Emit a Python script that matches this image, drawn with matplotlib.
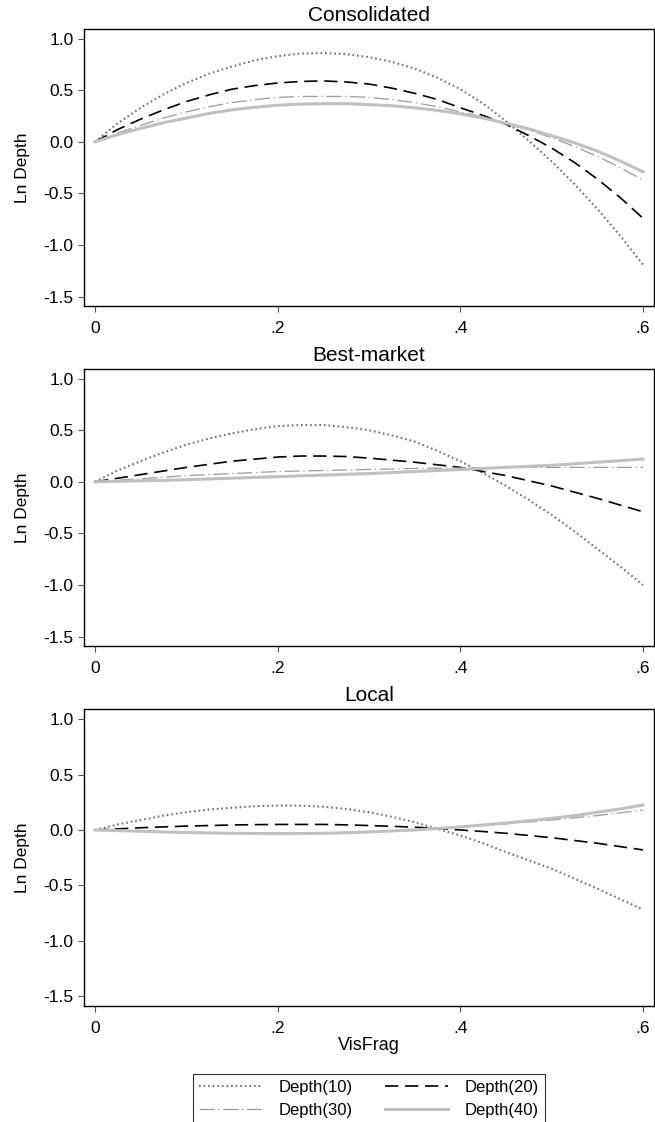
import matplotlib

matplotlib.use("Agg")
import matplotlib.pyplot as plt

plt.rcParams["font.family"] = ["Liberation Sans", "DejaVu Sans"]

# values, x = VisFrag (step .025)
visfrag = [
    0, 0.025, 0.05, 0.075, 0.1, 0.125, 0.15, 0.175, 0.2, 0.225, 0.25, 0.275, 0.3,
    0.325, 0.35, 0.375, 0.4, 0.425, 0.45, 0.475, 0.5, 0.525, 0.55, 0.575, 0.6,
]

panel_titles = ["Consolidated", "Best-market", "Local"]
series_labels = ["Depth(10)", "Depth(20)", "Depth(30)", "Depth(40)"]

cons_d10 = [0, 0.18, 0.33, 0.46, 0.57, 0.66, 0.73, 0.79, 0.83, 0.855, 0.86, 0.85, 0.82,
            0.775, 0.71, 0.62, 0.51, 0.37, 0.20, 0.01, -0.19, -0.41, -0.65, -0.91, -1.19]
cons_d20 = [0, 0.12, 0.22, 0.31, 0.39, 0.455, 0.51, 0.545, 0.57, 0.585, 0.59, 0.58, 0.56,
            0.52, 0.47, 0.41, 0.33, 0.255, 0.17, 0.06, -0.06, -0.20, -0.36, -0.54, -0.74]
cons_d30 = [0, 0.085, 0.16, 0.23, 0.29, 0.34, 0.38, 0.41, 0.43, 0.44, 0.44, 0.44, 0.43,
            0.41, 0.38, 0.34, 0.29, 0.24, 0.18, 0.115, 0.04, -0.045, -0.14, -0.25, -0.37]
cons_d40 = [0, 0.07, 0.13, 0.185, 0.23, 0.275, 0.31, 0.335, 0.355, 0.365, 0.37, 0.37, 0.36,
            0.35, 0.33, 0.305, 0.27, 0.23, 0.18, 0.125, 0.06, -0.01, -0.09, -0.185, -0.29]

best_d10 = [0, 0.11, 0.20, 0.285, 0.36, 0.42, 0.47, 0.51, 0.54, 0.55, 0.55, 0.53, 0.50,
            0.45, 0.39, 0.30, 0.20, 0.085, -0.04, -0.175, -0.32, -0.48, -0.65, -0.82, -1.00]
best_d20 = [0, 0.035, 0.07, 0.105, 0.14, 0.17, 0.20, 0.22, 0.24, 0.25, 0.25, 0.245, 0.23,
            0.21, 0.19, 0.165, 0.14, 0.10, 0.06, 0.01, -0.04, -0.10, -0.16, -0.225, -0.29]
best_d30 = [0, 0.015, 0.03, 0.045, 0.06, 0.07, 0.08, 0.09, 0.10, 0.105, 0.11, 0.115, 0.12,
            0.125, 0.13, 0.132, 0.135, 0.137, 0.14, 0.14, 0.14, 0.14, 0.14, 0.14, 0.14]
best_d40 = [0, 0.005, 0.01, 0.015, 0.02, 0.028, 0.035, 0.043, 0.05, 0.058, 0.065, 0.073, 0.08,
            0.09, 0.10, 0.11, 0.12, 0.13, 0.14, 0.15, 0.16, 0.175, 0.19, 0.205, 0.22]

local_d10 = [0, 0.05, 0.09, 0.13, 0.16, 0.185, 0.20, 0.215, 0.22, 0.22, 0.21, 0.19, 0.16,
             0.12, 0.07, 0.01, -0.05, -0.12, -0.20, -0.275, -0.35, -0.44, -0.53, -0.625, -0.72]
local_d20 = [0, 0.01, 0.02, 0.028, 0.035, 0.04, 0.045, 0.048, 0.05, 0.05, 0.05, 0.046, 0.04,
             0.033, 0.025, 0.013, 0.0, -0.014, -0.03, -0.05, -0.07, -0.095, -0.12, -0.15, -0.18]
local_d30 = [0, -0.005, -0.01, -0.015, -0.02, -0.024, -0.027, -0.029, -0.03, -0.029, -0.027,
             -0.022, -0.016, -0.008, 0.0, 0.012, 0.025, 0.04, 0.055, 0.072, 0.09, 0.11, 0.13,
             0.155, 0.18]
local_d40 = [0, -0.006, -0.012, -0.018, -0.023, -0.027, -0.03, -0.032, -0.033, -0.032, -0.03,
             -0.025, -0.018, -0.009, 0.0, 0.013, 0.028, 0.045, 0.063, 0.083, 0.105, 0.13, 0.16,
             0.19, 0.225]

panels = [
    [cons_d10, cons_d20, cons_d30, cons_d40],
    [best_d10, best_d20, best_d30, best_d40],
    [local_d10, local_d20, local_d30, local_d40],
]

yticks = [1.0, 0.5, 0.0, -0.5, -1.0, -1.5]
xticks = [0, 0.2, 0.4, 0.6]
xtick_labels = ["0", ".2", ".4", ".6"]

styles = [
    dict(color="#707070", lw=1.5, dashes=(0.8, 1.4)),
    dict(color="black", lw=1.2, dashes=(8, 4)),
    dict(color="#9a9a9a", lw=0.9, dashes=(12, 3, 1, 3)),
    dict(color="#c0c0c0", lw=2.2, ls="-"),
]

W, H = 655, 1122
fig = plt.figure(figsize=(W / 100, H / 100), dpi=100)

# axes boxes in pixels: (top, bottom)
boxes = [(29.3, 306), (369.3, 646), (709.3, 1006)]
left_px, right_px = 84, 654

handles = []
for i, (top, bot) in enumerate(boxes):
    ax = fig.add_axes(
        [left_px / W, 1 - bot / H, (right_px - left_px) / W, (bot - top) / H]
    )
    for j, ys in enumerate(panels[i]):
        (ln,) = ax.plot(visfrag, ys, label=series_labels[j], **styles[j])
        if i == 0:
            handles.append(ln)
    ax.set_xlim(-0.012, 0.612)
    ax.set_ylim(-1.59, 1.09)
    ax.set_yticks(yticks)
    ax.set_yticklabels([f"{v:.1f}" for v in yticks])
    ax.set_xticks(xticks)
    ax.set_xticklabels(xtick_labels)
    ax.tick_params(axis="both", labelsize=12.5, length=4.5, width=0.8, color="#555555")
    ax.tick_params(axis="y", pad=3)
    ax.tick_params(axis="x", pad=6)
    for s in ax.spines.values():
        s.set_linewidth(1.0)
    ax.set_title(panel_titles[i], fontsize=15, pad=6)
    ax.set_ylabel("Ln Depth", fontsize=12.5)
    ax.yaxis.set_label_coords(-0.095, 0.5)
    if i == 2:
        ax.set_xlabel("VisFrag", fontsize=13, labelpad=1)

# legend fills by column, so order handles to get 10/20 on the first row
order = [0, 2, 1, 3]
leg = fig.legend(
    handles=[handles[k] for k in order],
    labels=[series_labels[k] for k in order],
    ncol=2,
    loc="upper center",
    bbox_to_anchor=(369 / W, 1 - 1066 / H),
    fontsize=12,
    frameon=True,
    fancybox=False,
    edgecolor="black",
    handlelength=3.8,
    handletextpad=1.0,
    columnspacing=1.9,
    labelspacing=0.45,
    borderpad=0.35,
)
leg.get_frame().set_linewidth(0.8)

fig.savefig("out.png", dpi=100)
